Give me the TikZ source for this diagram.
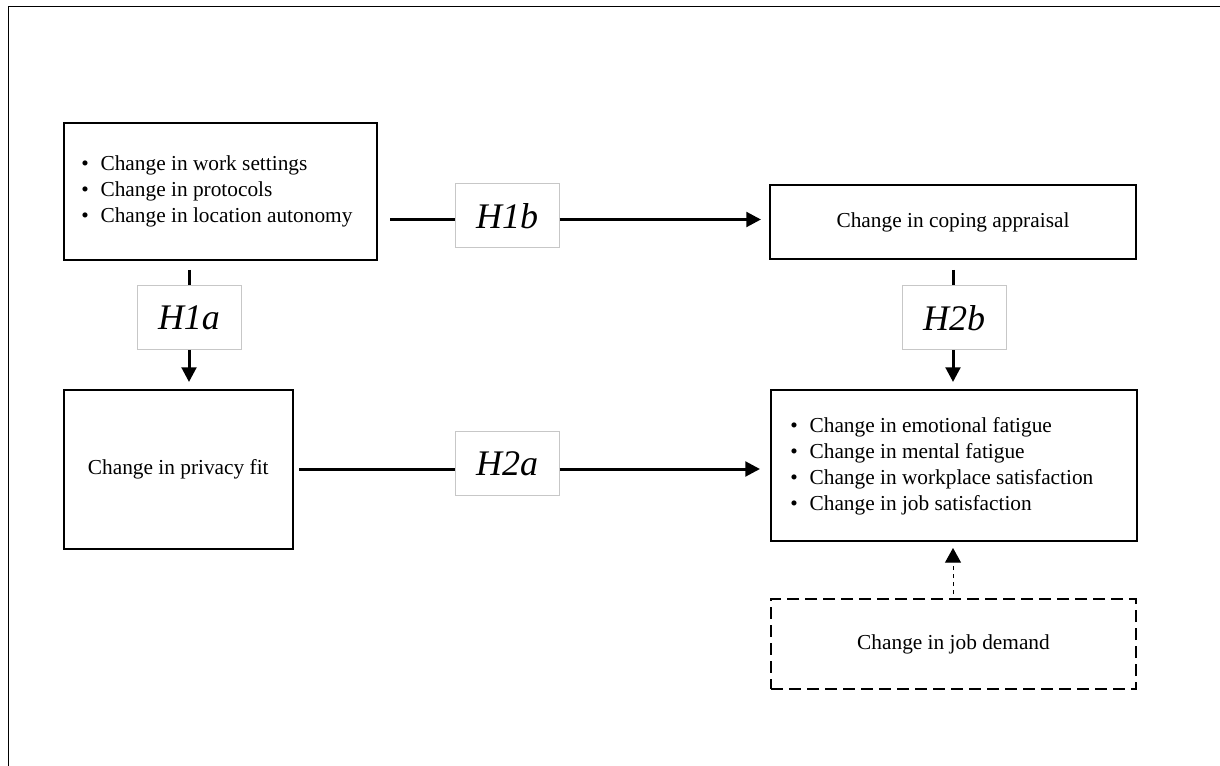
\documentclass[tikz,border=0pt]{standalone}
\usepackage{fontspec}
\setmainfont{Liberation Serif}
\usetikzlibrary{arrows.meta}
\newdimen\pxl \pxl=0.75pt
\newcommand{\bitem}[1]{\makebox[14.5pt][l]{\textbullet}#1}
\begin{document}
\begin{tikzpicture}[x=0.75pt,y=-0.75pt,
 box/.style={draw=black, line width=1.5pt, rectangle, inner sep=0pt, align=center, font=\fontsize{16pt}{19.5pt}\selectfont},
 dbox/.style={box, dash pattern=on 9pt off 4.5pt},
 hbox/.style={draw=black!22, line width=0.75pt, fill=white, inner sep=0pt, minimum width=104\pxl, minimum height=64\pxl, font=\fontsize{27pt}{30pt}\selectfont\itshape},
 listtext/.style={inner sep=0pt, align=left, anchor=west, font=\fontsize{16pt}{19.5pt}\selectfont},
 conn/.style={line width=2.25pt},
 arr/.style={conn, -{Triangle[length=11pt,width=11pt]}},
 darr/.style={line width=0.75pt, dash pattern=on 3pt off 3pt, -{Triangle[length=11pt,width=12pt]}}
]
\useasboundingbox (0,0) rectangle (1220,766);
% frame
\draw[line width=1.2pt] (1220,6.5) -- (8.5,6.5) -- (8.5,766);

% boxes
\node[box, minimum width=313\pxl, minimum height=137\pxl] (A) at (220,191.5) {};
\node[box, minimum width=366\pxl, minimum height=74\pxl] (B) at (953,222) {Change in coping appraisal};
\node[box, minimum width=229.5\pxl, minimum height=159\pxl] (C) at (178.25,469.5) {Change in privacy fit};
\node[box, minimum width=366\pxl, minimum height=151\pxl] (D) at (954,465.5) {};
\node[dbox, minimum width=365\pxl, minimum height=90\pxl] (E) at (953.5,644) {Change in job demand};

\node[listtext] (Alist) at (81,191.5) {\bitem{Change in work settings}\\\bitem{Change in protocols}\\\bitem{Change in location autonomy}};
\node[listtext] (Dlist) at (790,466) {\bitem{Change in emotional fatigue}\\\bitem{Change in mental fatigue}\\\bitem{Change in workplace satisfaction}\\\bitem{Change in job satisfaction}};

% hypothesis labels
\node[hbox] (H1b) at (507,216) {H1b};
\node[hbox] (H1a) at (189,317.5) {H1a};
\node[hbox] (H2b) at (954,318) {H2b};
\node[hbox] (H2a) at (507,463.5) {H2a};

% connectors
\coordinate (ab0) at (390,219.5);
\coordinate (ab1) at (761,219.5);
\draw[conn] (ab0) -- (ab0 -| H1b.west);
\draw[arr] (ab0 -| H1b.east) -- (ab1);

\coordinate (ac0) at (189,270);
\coordinate (ac1) at (189,382);
\draw[conn] (ac0) -- (ac0 |- H1a.north);
\draw[arr] (ac0 |- H1a.south) -- (ac1);

\coordinate (bd0) at (953,270);
\coordinate (bd1) at (953,382);
\draw[conn] (bd0) -- (bd0 |- H2b.north);
\draw[arr] (bd0 |- H2b.south) -- (bd1);

\coordinate (cd0) at (299,469);
\coordinate (cd1) at (760,469);
\draw[conn] (cd0) -- (cd0 -| H2a.west);
\draw[arr] (cd0 -| H2a.east) -- (cd1);

\coordinate (ed0) at (953,594);
\coordinate (ed1) at (953,548);
\draw[darr] (ed0) -- (ed1);
\end{tikzpicture}
\end{document}
